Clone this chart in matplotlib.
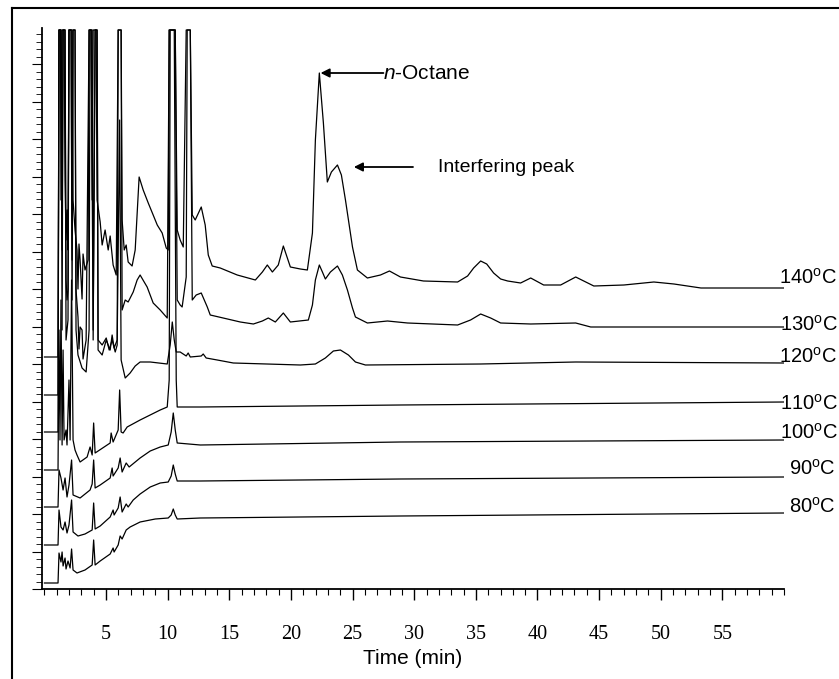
"""Stacked GC chromatograms of n-octane at several column temperatures."""
import matplotlib
matplotlib.use("Agg")
import matplotlib.pyplot as plt
from matplotlib.lines import Line2D
from matplotlib.ticker import MultipleLocator

plt.rcParams["font.family"] = ["Liberation Sans", "DejaVu Sans"]
plt.rcParams["mathtext.fontset"] = "custom"
plt.rcParams["mathtext.rm"] = "Liberation Sans"
plt.rcParams["mathtext.it"] = "Liberation Sans:italic"

# signal in arbitrary detector units, 559 = recorder full scale (peak clipped)
t80 = [0, 1.10, 1.18, 1.34, 1.43, 1.51, 1.67, 1.75, 1.91, 2.08, 2.20, 2.32, 2.64, 3.29,
       3.87, 3.99, 4.11, 4.52, 5.33, 5.57, 5.65, 5.98, 6.14, 6.30, 6.63, 6.95, 7.76, 8.99,
       10.04, 10.28, 10.45, 10.61, 10.77, 12.64, 28.88, 60.0]
v80 = [6, 6, 36, 27, 37, 23, 31, 20, 28, 21, 40, 19, 16, 19,
       24, 49, 24, 28, 35, 41, 37, 44, 53, 50, 59, 62, 67, 70,
       71, 74, 80, 74, 70, 71, 73, 76]

t90 = [0, 1.10, 1.18, 1.34, 1.51, 1.67, 1.83, 1.99, 2.20, 2.32, 2.72, 3.29, 3.87, 3.99,
       4.11, 4.52, 5.33, 5.57, 5.65, 5.98, 6.14, 6.30, 6.63, 6.79, 7.20, 7.76, 8.58, 9.39,
       10.04, 10.28, 10.45, 10.61, 10.77, 12.64, 28.88, 60.0]
v90 = [44, 44, 79, 62, 59, 67, 56, 64, 89, 57, 53, 55, 59, 86,
       60, 63, 72, 79, 74, 81, 92, 77, 85, 82, 89, 95, 102, 106,
       107, 113, 124, 115, 108, 108, 110, 112]

t100 = [0, 1.10, 1.18, 1.34, 1.51, 1.67, 1.83, 1.99, 2.20, 2.32, 2.89, 3.70, 3.87, 3.99,
        4.11, 4.52, 5.33, 5.49, 5.57, 5.98, 6.14, 6.30, 6.63, 6.87, 7.76, 8.58, 9.39,
        10.04, 10.28, 10.45, 10.61, 10.77, 12.64, 28.88, 60.0]
v100 = [82, 82, 119, 111, 99, 111, 92, 104, 129, 94, 91, 99, 105, 129,
        101, 104, 111, 121, 113, 121, 131, 117, 126, 122, 131, 138, 142,
        144, 157, 176, 159, 146, 144, 147, 149]

t110 = [0, 1.10, 1.18, 1.26, 1.34, 1.43, 1.51, 1.59, 1.75, 1.83, 1.99, 2.08, 2.20, 2.32,
        2.48, 2.64, 2.89, 3.46, 3.70, 3.87, 3.99, 4.11, 5.33, 5.41, 5.57, 5.98, 6.10, 6.22,
        6.38, 6.71, 7.76, 9.39, 9.96, 10.12, 10.20, 10.53, 10.69, 10.77, 12.64, 28.88, 60.0]
v110 = [119, 119, 259, 149, 289, 144, 239, 149, 159, 144, 209, 149, 309, 149,
        139, 134, 127, 132, 142, 134, 166, 136, 146, 156, 147, 159, 199, 157,
        156, 162, 169, 179, 182, 209, 559, 559, 209, 182, 182, 184, 187]

t120 = [0, 1.10, 1.18, 1.34, 1.43, 1.51, 1.67, 1.75, 1.91, 1.99, 2.16, 2.24, 2.32, 2.48,
        2.56, 2.72, 3.05, 3.38, 3.62, 3.70, 3.87, 3.95, 4.11, 4.27, 4.35, 4.68, 5.01, 5.33,
        5.49, 5.65, 5.90, 6.10, 6.22, 6.55, 6.95, 7.36, 7.76, 8.58, 9.96, 10.20, 10.37,
        10.53, 10.69, 11.01, 11.50, 11.66, 11.83, 12.72, 12.88, 13.12, 14.02, 15.32, 20.76,
        21.98, 22.79, 23.44, 24.01, 24.66, 25.23, 26.04, 35.39, 43.10, 60.0]
v120 = [157, 157, 559, 559, 259, 559, 559, 249, 269, 559, 559, 289, 559, 559,
        259, 234, 221, 217, 259, 559, 559, 249, 559, 559, 239, 234, 249, 239,
        254, 241, 249, 469, 229, 211, 216, 223, 227, 227, 225, 244, 267,
        249, 237, 237, 233, 236, 232, 233, 235, 231, 229, 226, 224,
        225, 231, 238, 239, 234, 227, 224, 225, 227, 226]

t130 = [0, 1.10, 1.18, 1.34, 1.43, 1.51, 1.67, 1.75, 1.83, 1.91, 1.99, 2.16, 2.24, 2.32,
        2.48, 2.56, 2.72, 2.80, 2.89, 3.05, 3.13, 3.38, 3.62, 3.79, 3.95, 4.11, 4.27, 4.35,
        4.68, 5.01, 5.25, 5.49, 5.74, 5.90, 5.98, 6.22, 6.30, 6.55, 6.79, 7.20, 7.52, 7.76,
        8.09, 8.33, 8.82, 9.39, 9.96, 10.12, 10.61, 10.77, 11.01, 11.17, 11.50, 11.58, 11.83,
        11.99, 12.31, 12.72, 13.21, 13.45, 14.50, 15.89, 16.95, 17.68, 18.16, 18.73, 19.38,
        19.95, 21.41, 21.74, 21.98, 22.30, 22.55, 22.79, 23.20, 23.77, 24.17, 24.58, 24.99,
        25.23, 26.20, 27.83, 29.46, 33.52, 34.57, 35.39, 36.20, 37.01, 39.45, 43.10, 44.32,
        60.0]
v130 = [194, 194, 559, 559, 339, 559, 559, 309, 289, 299, 559, 559, 329, 559,
        559, 299, 272, 240, 262, 259, 230, 249, 559, 559, 259, 559, 559, 249,
        244, 251, 239, 249, 237, 244, 559, 559, 279, 289, 287, 297, 309, 314,
        307, 302, 286, 279, 271, 559, 559, 289, 284, 282, 312, 559, 559,
        289, 294, 296, 282, 274, 271, 267, 265, 268, 271, 267, 276,
        267, 269, 284, 309, 324, 317, 310, 317, 323, 314, 299, 281,
        272, 266, 268, 266, 264, 269, 275, 271, 266, 265, 266, 262,
        262]

t140 = [0, 1.10, 1.18, 1.30, 1.34, 1.43, 1.59, 1.67, 1.75, 1.83, 1.91, 1.99, 2.24, 2.32,
        2.48, 2.64, 2.72, 2.80, 2.89, 3.05, 3.13, 3.29, 3.54, 3.62, 3.79, 3.87, 3.95, 4.19,
        4.27, 4.52, 4.68, 4.92, 5.17, 5.33, 5.57, 5.82, 5.98, 6.22, 6.30, 6.47, 6.63, 6.79,
        7.11, 7.36, 7.68, 8.01, 8.42, 8.82, 9.15, 9.55, 9.88, 10.04, 10.12, 10.61, 10.77,
        11.01, 11.26, 11.50, 11.83, 11.99, 12.23, 12.72, 13.04, 13.29, 13.61, 14.26, 15.64,
        17.11, 17.68, 18.08, 18.49, 18.97, 19.38, 19.95, 20.76, 21.33, 21.74, 21.98, 22.30,
        22.63, 22.95, 23.28, 23.77, 24.09, 24.42, 24.99, 25.39, 26.20, 27.26, 27.99, 28.88,
        30.75, 33.52, 34.33, 34.82, 35.39, 35.88, 36.44, 37.01, 37.58, 38.63, 39.45, 40.50,
        41.88, 43.10, 44.57, 47.01, 49.44, 51.07, 53.26, 60.0]
v140 = [232, 232, 559, 559, 389, 559, 559, 409, 349, 379, 339, 559, 559, 389,
        359, 339, 300, 345, 329, 290, 335, 319, 329, 559, 559, 389, 559, 559,
        389, 367, 344, 359, 339, 353, 324, 314, 559, 559, 369, 339, 344, 327,
        323, 339, 412, 399, 386, 374, 364, 356, 341, 339, 559, 559, 359,
        349, 342, 559, 559, 374, 369, 382, 364, 334, 323, 321, 314,
        309, 317, 324, 317, 324, 343, 322, 320, 319, 356, 449, 516,
        466, 407, 417, 424, 414, 389, 342, 319, 311, 314, 318, 312,
        308, 307, 313, 321, 328, 325, 316, 310, 308, 306, 311, 304,
        304, 312, 303, 304, 307, 305, 301, 301]

traces = [(t80, v80), (t90, v90), (t100, v100), (t110, v110),
          (t120, v120), (t130, v130), (t140, v140)]
temps = ["80", "90", "100", "110", "120", "130", "140"]

# label placement (time, baseline level) at the right end of each trace
label_t = [60.4, 60.4, 59.7, 59.7, 59.6, 59.7, 59.6]
label_v = [76, 114, 150, 179, 226, 258, 305]

fig = plt.figure(figsize=(8.39, 6.79), dpi=100)
ax = fig.add_axes([42 / 839, 90 / 679, 742 / 839, 561 / 679])

for t, v in traces:
    ax.plot(t, v, color="black", lw=0.9)

for name, lt, lv in zip(temps, label_t, label_v):
    ax.text(lt, lv, name + r"$^{\rm o}$C", fontsize=14.5, ha="left",
            va="baseline", clip_on=False)

# peak annotations
ax.annotate("", xy=(22.4, 516), xytext=(27.5, 516),
            arrowprops=dict(arrowstyle="-|>", color="black", lw=1.3,
                            mutation_scale=13, shrinkA=0, shrinkB=0))
ax.text(27.5, 516, r"$\it{n}$-Octane", fontsize=15, ha="left", va="center")
ax.annotate("", xy=(25.1, 422), xytext=(29.9, 422),
            arrowprops=dict(arrowstyle="-|>", color="black", lw=1.3,
                            mutation_scale=13, shrinkA=0, shrinkB=0))
ax.text(31.9, 422, "Interfering peak", fontsize=14, ha="left", va="center")

ax.set_xlim(-0.2, 60)
ax.set_ylim(0, 561)
ax.set_xticks(range(5, 60, 5))
ax.xaxis.set_minor_locator(MultipleLocator(1))
ax.yaxis.set_major_locator(MultipleLocator(37.5))
ax.yaxis.set_minor_locator(MultipleLocator(7.5))
ax.tick_params(axis="x", which="major", length=8, width=1.0, pad=18, labelsize=14.5)
ax.tick_params(axis="x", which="minor", length=4, width=0.8)
ax.tick_params(axis="y", which="major", length=7, width=0.8, labelleft=False)
ax.tick_params(axis="y", which="minor", length=4, width=0.6)
for lab in ax.get_xticklabels():
    lab.set_fontfamily("Liberation Serif")

for side in ("top", "right"):
    ax.spines[side].set_visible(False)
ax.spines["left"].set_linewidth(1.3)
ax.spines["bottom"].set_linewidth(1.3)

ax.set_xlabel("Time (min)", fontsize=15)
ax.xaxis.set_label_coords(0.5, -0.107)

# outer frame of the original figure (left and top edges)
fig.add_artist(Line2D([12 / 839, 12 / 839], [0, 1 - 8 / 679], color="black", lw=1.5))
fig.add_artist(Line2D([12 / 839, 1], [1 - 8 / 679, 1 - 8 / 679], color="black", lw=1.5))

fig.savefig("out.png", dpi=100)
plt.close(fig)
